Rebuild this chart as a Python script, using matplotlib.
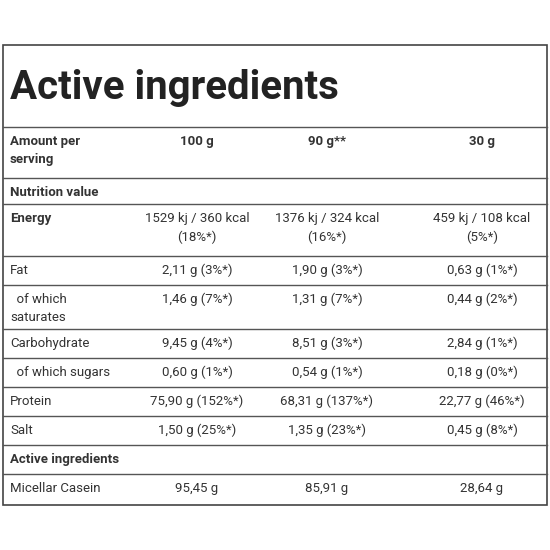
import matplotlib
matplotlib.use("Agg")
import matplotlib.pyplot as plt
from matplotlib import font_manager

names = {f.name for f in font_manager.fontManager.ttflist}
FONT = ['Liberation Sans Narrow'] if 'Liberation Sans Narrow' in names else ['Roboto']
plt.rcParams['font.family'] = FONT + ['DejaVu Sans']

title = "Active ingredients"
header = ["Amount per\nserving", "100 g", "90 g**", "30 g"]
row_labels = ["Nutrition value", "Energy", "Fat", "  of which\nsaturates", "Carbohydrate",
              "  of which sugars", "Protein", "Salt", "Active ingredients", "Micellar Casein"]
col_100 = ["", "1529 kj / 360 kcal\n(18%*)", "2,11 g (3%*)", "1,46 g (7%*)", "9,45 g (4%*)",
           "0,60 g (1%*)", "75,90 g (152%*)", "1,50 g (25%*)", "", "95,45 g"]
col_90 = ["", "1376 kj / 324 kcal\n(16%*)", "1,90 g (3%*)", "1,31 g (7%*)", "8,51 g (3%*)",
          "0,54 g (1%*)", "68,31 g (137%*)", "1,35 g (23%*)", "", "85,91 g"]
col_30 = ["", "459 kj / 108 kcal\n(5%*)", "0,63 g (1%*)", "0,44 g (2%*)", "2,84 g (1%*)",
          "0,18 g (0%*)", "22,77 g (46%*)", "0,45 g (8%*)", "", "28,64 g"]
bold_rows = {"Nutrition value", "Energy", "Active ingredients"}

row_edges = [127, 178, 204, 256, 285, 329, 358, 387, 416, 445, 474, 505]
col_x = [10, 197, 327, 482]

fig = plt.figure(figsize=(5.5, 5.5), dpi=100)
ax = fig.add_axes([0, 0, 1, 1])
ax.set_xlim(0, 550); ax.set_ylim(550, 0); ax.axis('off')

c = '#333333'
ax.add_patch(plt.Rectangle((3, 45), 544, 460, fill=False, lw=1.2, ec='#444444'))
ax.text(10, 88, title, fontsize=29, fontweight='bold', va='center', color='#222222')
for y in row_edges[:-1]:
    ax.plot([3, 547], [y, y], color='#555555', lw=1.0)

def row_text(i, vals, bold):
    y0 = row_edges[i]
    for j, v in enumerate(vals):
        if not v:
            continue
        b = bold if j == 0 else (bold and i == 0)
        ax.text(col_x[j], y0 + 8, v, fontsize=9.5, ha='left' if j == 0 else 'center',
                va='top', fontweight='bold' if b else 'normal', color=c, linespacing=1.5)

row_text(0, header, True)
for k, lab in enumerate(row_labels):
    row_text(k + 1, [lab, col_100[k], col_90[k], col_30[k]], lab in bold_rows)

fig.savefig("out.png", dpi=100, facecolor='white')
